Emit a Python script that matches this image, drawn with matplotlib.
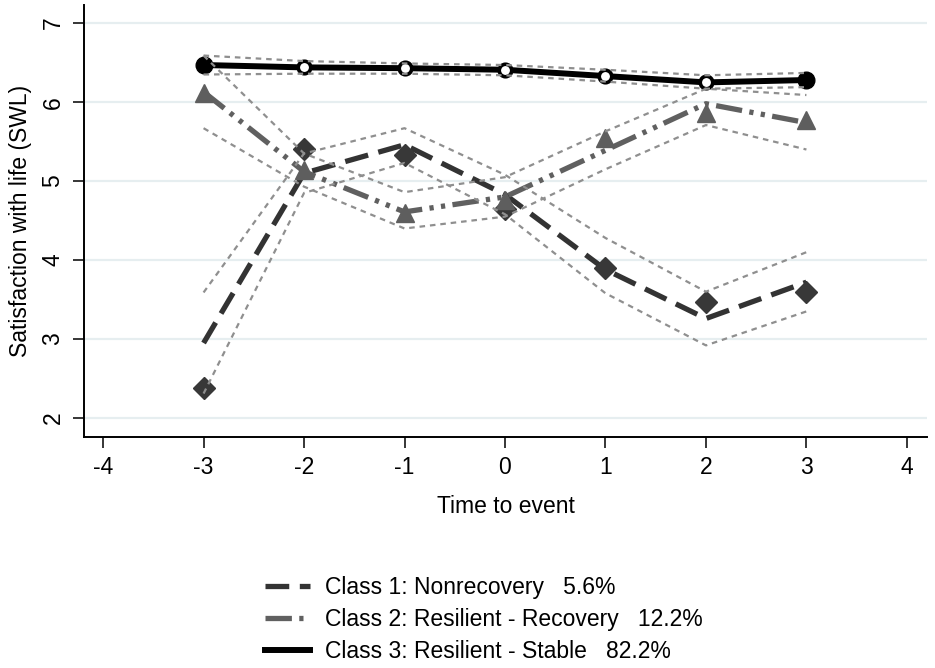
import matplotlib.pyplot as plt

plt.rcParams['font.family'] = ['Liberation Sans', 'DejaVu Sans']
plt.rcParams['axes.unicode_minus'] = False

# time to event
xs = [-3, -2, -1, 0, 1, 2, 3]

# Class 1: Nonrecovery
c1_est = [2.95, 5.10, 5.46, 4.83, 3.88, 3.26, 3.72]
c1_obs = [2.38, 5.41, 5.33, 4.65, 3.90, 3.47, 3.60]
c1_hi = [3.59, 5.35, 5.67, 5.08, 4.28, 3.60, 4.10]
c1_lo = [2.31, 4.85, 5.23, 4.58, 3.58, 2.92, 3.35]

# Class 2: Resilient - Recovery
c2_est = [6.13, 5.12, 4.61, 4.80, 5.39, 5.98, 5.74]
c2_obs = [6.11, 5.14, 4.59, 4.76, 5.54, 5.86, 5.77]
c2_hi = [6.59, 5.35, 4.86, 5.05, 5.63, 6.17, 6.09]
c2_lo = [5.67, 4.93, 4.40, 4.55, 5.15, 5.71, 5.40]

# Class 3: Resilient - Stable
c3_est = [6.47, 6.44, 6.43, 6.41, 6.33, 6.25, 6.28]
c3_obs = [6.47, 6.44, 6.43, 6.41, 6.33, 6.25, 6.28]
c3_err = [0.05, 0.05, 0.05, 0.05, 0.05, 0.05, 0.05]
c3_hi = [6.59, 6.52, 6.49, 6.47, 6.41, 6.34, 6.37]
c3_lo = [6.35, 6.36, 6.36, 6.34, 6.26, 6.17, 6.19]

labels = ['Class 1: Nonrecovery   5.6%',
          'Class 2: Resilient - Recovery   12.2%',
          'Class 3: Resilient - Stable   82.2%']

fig = plt.figure(figsize=(9.35, 6.68), dpi=100)
ax = fig.add_axes([84/935, 1-437/668, (927-84)/935, (437-5)/668])

ax.set_xlim(-4.19, 4.2)
ax.set_ylim(1.76, 7.23)
ax.set_yticks([2, 3, 4, 5, 6, 7])
ax.set_xticks([-4, -3, -2, -1, 0, 1, 2, 3, 4])
ax.yaxis.grid(True, color='#e6eef0', linewidth=1.6)
ax.set_axisbelow(True)
for s in ['top', 'right']:
    ax.spines[s].set_visible(False)
for s in ['left', 'bottom']:
    ax.spines[s].set_linewidth(1.4)
ax.tick_params(length=8, width=1.1, labelsize=16.5, pad=6)
ax.tick_params(axis='y', labelrotation=90)
for t in ax.get_yticklabels():
    t.set_va('center')

# estimated trajectories
l1, = ax.plot(xs, c1_est, color='#333333', lw=3.8, dashes=(4.5, 2.0), zorder=3)
l2, = ax.plot(xs, c2_est, color='#606060', lw=3.8, dashes=(5.0, 1.4, 0.8, 1.4, 0.8, 1.4), zorder=3)
l3, = ax.plot(xs, c3_est, color='black', lw=4.3, zorder=4)

# observed means
ax.plot(xs, c1_obs, 'D', color='#383838', ms=11, ls='none', zorder=5)
ax.plot(xs, c2_obs, '^', color='#5e5e5e', ms=13, ls='none', zorder=5)
ax.errorbar(xs[1:-1], c3_obs[1:-1], yerr=c3_err[1:-1], fmt='o', ms=9, mfc='white',
            mec='black', mew=2.6, ecolor='black', elinewidth=1.8, capsize=0, zorder=6)
ax.plot([xs[0], xs[-1]], [c3_obs[0], c3_obs[-1]], 'o', color='black', ms=12, zorder=6)

# confidence bands
for hi, lo in [(c1_hi, c1_lo), (c2_hi, c2_lo), (c3_hi, c3_lo)]:
    ax.plot(xs, hi, color='#8f8f8f', lw=1.6, dashes=(2.5, 2.2), zorder=7)
    ax.plot(xs, lo, color='#8f8f8f', lw=1.6, dashes=(2.5, 2.2), zorder=7)

ax.set_xlabel('Time to event', fontsize=16.5, labelpad=11)
ax.set_ylabel('Satisfaction with life (SWL)', fontsize=16.5, labelpad=7)

fig.legend([l1, l2, l3], labels, loc='upper left', bbox_to_anchor=(265/935, 1-576/668),
           frameon=False, fontsize=16.5, handlelength=1.95, handletextpad=0.65,
           labelspacing=0.4, borderpad=0, borderaxespad=0)

fig.savefig('out.png', dpi=100)
